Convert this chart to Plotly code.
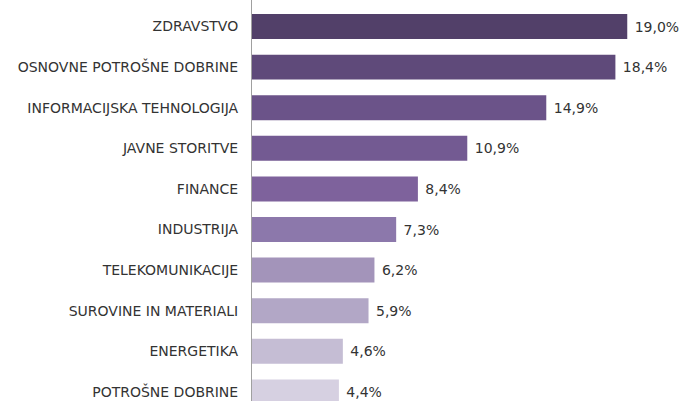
import plotly.graph_objects as go

categories = ["ZDRAVSTVO", "OSNOVNE POTROŠNE DOBRINE", "INFORMACIJSKA TEHNOLOGIJA",
              "JAVNE STORITVE", "FINANCE", "INDUSTRIJA", "TELEKOMUNIKACIJE",
              "SUROVINE IN MATERIALI", "ENERGETIKA", "POTROŠNE DOBRINE"]
values = [19.0, 18.4, 14.9, 10.9, 8.4, 7.3, 6.2, 5.9, 4.6, 4.4]
colors = ["#524069", "#5f4a7a", "#6b5389", "#735a92", "#7e629c", "#8c78ab",
          "#a394ba", "#b2a7c6", "#c5bdd4", "#d6d0e1"]

FONT = "DejaVu Sans, sans-serif"

fig = go.Figure(go.Bar(
    x=values, y=categories, orientation="h",
    marker=dict(color=colors, line=dict(width=0)),
    texttemplate="\u00a0%{x:.1f}%", textposition="outside", cliponaxis=False,
    constraintext="none",
    textfont=dict(family=FONT, size=14, color="#333333"),
    hoverinfo="skip",
))

fig.update_layout(
    width=679, height=401,
    margin=dict(l=252, r=32, t=0, b=0),
    paper_bgcolor="white", plot_bgcolor="white",
    separators=",.",
    bargap=0.385,
    showlegend=False,
    xaxis=dict(range=[0, 20], visible=False, showgrid=False, zeroline=False,
               automargin=False),
    yaxis=dict(
        categoryorder="array", categoryarray=categories,
        range=[9.224, -0.653], automargin=False,
        showline=True, linecolor="#a0a0a0", linewidth=1,
        ticks="", ticklen=0, ticklabelstandoff=10,
        showgrid=False,
        tickfont=dict(family=FONT, size=14, color="#333333"),
    ),
)

fig.write_html("out.html", config={"displayModeBar": False},
               post_script="document.body.style.margin='0';document.body.style.overflow='hidden';")
